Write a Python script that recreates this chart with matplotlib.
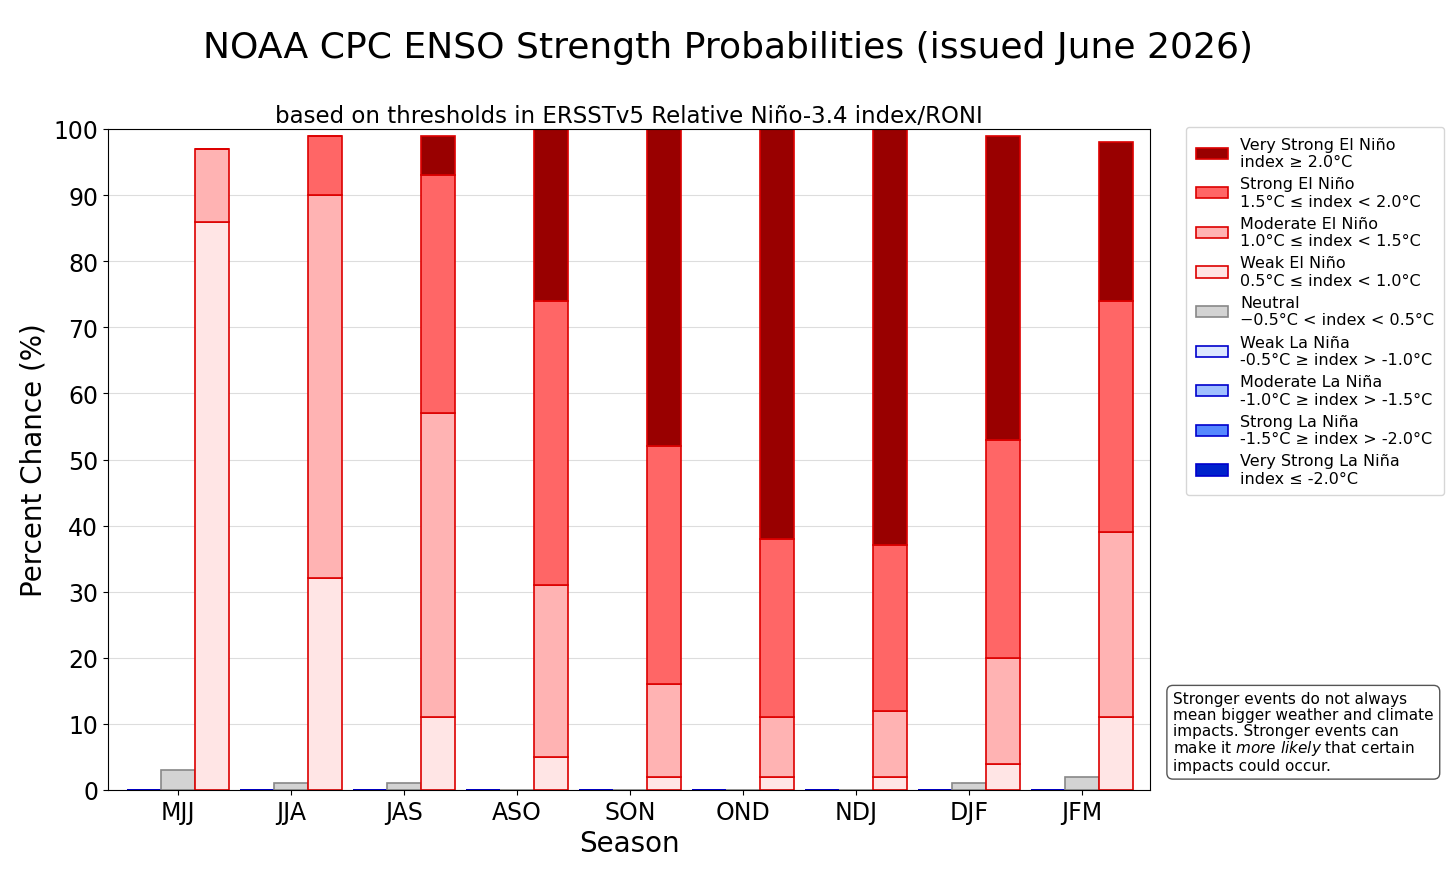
import matplotlib.pyplot as plt
import numpy as np

seasons = ["MJJ","JJA","JAS","ASO","SON","OND","NDJ","DJF","JFM"]
neutral = [3,1,1,0,0,0,0,1,2]
weak_en = [86,32,11,5,2,2,2,4,11]
mod_en = [11,58,46,26,14,9,10,16,28]
strong_en = [0,9,36,43,36,27,25,33,35]
vs_en = [0,0,6,26,48,62,63,46,24]
weak_ln = [0]*9; mod_ln=[0]*9; strong_ln=[0]*9; vs_ln=[0]*9

fig = plt.figure(figsize=(14.56,8.79), dpi=100)
ax = fig.add_axes([108/1456, 1-791/879, (1150-108)/1456, (791-130)/879])
x = np.arange(len(seasons)); w = 0.3
ax.set_axisbelow(True)
ax.grid(axis='y', color='#dddddd', lw=0.8)

ln = [(weak_ln,'#dde8ff','Weak La Niña\n-0.5°C ≥ index > -1.0°C'),
      (mod_ln,'#a0c0ff','Moderate La Niña\n-1.0°C ≥ index > -1.5°C'),
      (strong_ln,'#5588ff','Strong La Niña\n-1.5°C ≥ index > -2.0°C'),
      (vs_ln,'#0022cc','Very Strong La Niña\nindex ≤ -2.0°C')]
en = [(weak_en,'#ffe5e5','Weak El Niño\n0.5°C ≤ index < 1.0°C'),
      (mod_en,'#ffb3b3','Moderate El Niño\n1.0°C ≤ index < 1.5°C'),
      (strong_en,'#ff6666','Strong El Niño\n1.5°C ≤ index < 2.0°C'),
      (vs_en,'#990000','Very Strong El Niño\nindex ≥ 2.0°C')]
handles = {}
b = np.zeros(9)
for v,c,l in ln:
    handles[l] = ax.bar(x-w, v, w, bottom=b, color=c, edgecolor='#0000cc', lw=1.2)
    b += np.array(v)
handles['n'] = ax.bar(x, neutral, w, color='#d3d3d3', edgecolor='#888888', lw=1.2)
b = np.zeros(9)
for v,c,l in en:
    handles[l] = ax.bar(x+w, v, w, bottom=b, color=c, edgecolor='#dd0000', lw=1.2)
    b += np.array(v)

order = [en[3],en[2],en[1],en[0]]
hl = [handles[l] for _,_,l in order] + [handles['n']] + [handles[l] for _,_,l in ln]
ll = [l for _,_,l in order] + ['Neutral\n−0.5°C < index < 0.5°C'] + [l for _,_,l in ln]
ax.legend(hl, ll, loc='upper left', bbox_to_anchor=(1.027,1.015), fontsize=11.5,
          labelspacing=0.45, handlelength=2, borderpad=0.6)

ax.set_xlim(-0.62, 8.6); ax.set_ylim(0,100)
ax.set_yticks(range(0,101,10))
ax.set_xticks(x); ax.set_xticklabels(seasons)
ax.tick_params(labelsize=17)
ax.set_xlabel('Season', fontsize=20)
ax.set_ylabel('Percent Chance (%)', fontsize=20)
fig.text(0.5, 0.934, 'NOAA CPC ENSO Strength Probabilities (issued June 2026)', ha='center', fontsize=26)
ax.set_title('based on thresholds in ERSSTv5 Relative Niño-3.4 index/RONI', fontsize=16.5, pad=5)
fig.text(1173/1456, 1-774/879, 'Stronger events do not always\nmean bigger weather and climate\nimpacts. Stronger events can\nmake it $\\it{more\\ likely}$ that certain\nimpacts could occur.',
         fontsize=11, va='bottom', ha='left', linespacing=1.05,
         bbox=dict(boxstyle='round,pad=0.4', fc='white', ec='#555555'))
fig.savefig('out.png', dpi=100)
